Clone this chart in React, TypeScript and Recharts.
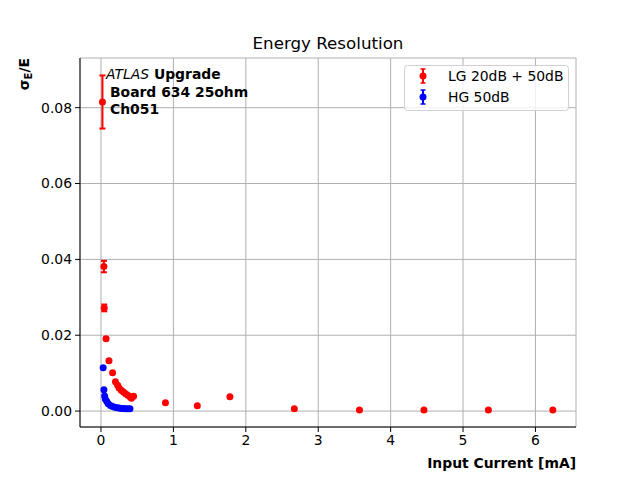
import { CartesianGrid, ErrorBar, Scatter, ScatterChart, XAxis, YAxis } from "recharts"

// LG 20dB + 50dB: input current [mA], sigma_E/E, error (null = too small to see)
const lgCurrent = [0.02, 0.04, 0.045, 0.07, 0.11, 0.16, 0.2, 0.23, 0.25, 0.28, 0.31, 0.34, 0.37, 0.4, 0.42, 0.45, 0.89, 1.33, 1.78, 2.67, 3.57, 4.46, 5.35, 6.24]
const lgRes = [0.0815, 0.0381, 0.0272, 0.0191, 0.0133, 0.0101, 0.0077, 0.0068, 0.0061, 0.0055, 0.005, 0.0046, 0.0042, 0.0038, 0.0034, 0.0039, 0.0022, 0.0014, 0.0038, 0.0006, 0.0003, 0.0003, 0.0003, 0.0003]
const lgErr = [0.007, 0.0015, 0.0009, 0.0003, null, null, null, null, null, null, null, null, null, null, null, null, null, null, null, null, null, null, null, null]

// HG 50dB
const hgCurrent = [0.03, 0.04, 0.05, 0.06, 0.08, 0.1, 0.13, 0.16, 0.19, 0.22, 0.25, 0.28, 0.31, 0.34, 0.37, 0.4]
const hgRes = [0.0114, 0.0056, 0.004, 0.0032, 0.0025, 0.0019, 0.0015, 0.0012, 0.001, 0.0009, 0.0008, 0.0007, 0.0007, 0.0006, 0.0006, 0.0006]
const hgErr = [null, null, null, null, null, null, null, null, null, null, null, null, null, null, null, null]

const xTicks = [0, 1, 2, 3, 4, 5, 6]
const yTicks = [0, 0.02, 0.04, 0.06, 0.08]

const lgData = lgCurrent.map((x, i) => ({ x, y: lgRes[i], err: lgErr[i] }))
const hgData = hgCurrent.map((x, i) => ({ x, y: hgRes[i], err: hgErr[i] }))

const font = "DejaVu Sans"

const dot = (color: string) => (props: any) => (
  <circle cx={props.cx} cy={props.cy} r={3.5} fill={color} />
)

export default function App() {
  return (
    <div style={{ position: "absolute", left: 0, top: 0, width: 640, height: 480, background: "#fff", fontFamily: font }}>
      <ScatterChart width={640} height={480} margin={{ top: 58, right: 64, bottom: 23, left: 0 }}>
        <CartesianGrid stroke="#b0b0b0" strokeWidth={1} />
        <XAxis
          type="number"
          dataKey="x"
          domain={[-0.29, 6.56]}
          ticks={xTicks}
          allowDataOverflow
          height={30}
          stroke="#000"
          tick={{ fill: "#000", fontSize: 13.9, fontFamily: font }}
          tickSize={5}
          tickMargin={3}
        />
        <XAxis xAxisId="top" orientation="top" type="number" domain={[-0.29, 6.56]} tick={false} tickLine={false} height={0} stroke="#000" />
        <YAxis
          type="number"
          dataKey="y"
          domain={[-0.0042, 0.0931]}
          ticks={yTicks}
          allowDataOverflow
          width={80}
          stroke="#000"
          tick={{ fill: "#000", fontSize: 13.9, fontFamily: font }}
          tickFormatter={(v) => v.toFixed(2)}
          tickSize={5}
          tickMargin={3}
        />
        <YAxis yAxisId="right" orientation="right" type="number" domain={[-0.0042, 0.0931]} tick={false} tickLine={false} width={0} stroke="#000" />
        <Scatter data={lgData} fill="#ff0000" shape={dot("#ff0000")} isAnimationActive={false}>
          <ErrorBar dataKey="err" direction="y" width={3} stroke="#ff0000" strokeWidth={2} />
        </Scatter>
        <Scatter data={hgData} fill="#0000ff" shape={dot("#0000ff")} isAnimationActive={false}>
          <ErrorBar dataKey="err" direction="y" width={3} stroke="#0000ff" strokeWidth={2} />
        </Scatter>
      </ScatterChart>
      <svg width={640} height={480} style={{ position: "absolute", left: 0, top: 0, pointerEvents: "none" }} fontFamily={font}>
        <text x={328} y={49} textAnchor="middle" fontSize={16.7} fill="#000">Energy Resolution</text>
        <text x={576} y={468} textAnchor="end" fontSize={13.9} fontWeight="bold" fill="#000">Input Current [mA]</text>
        <text transform="translate(29,58) rotate(-90)" textAnchor="end" fontSize={13.9} fontWeight="bold" fill="#000">
          σ<tspan fontSize={10} dy={3}>E</tspan><tspan dy={-3}>/E</tspan>
        </text>
        <text x={106} y={79} fontSize={13.9} fill="#000">
          <tspan fontStyle="italic">ATLAS</tspan><tspan fontWeight="bold"> Upgrade</tspan>
        </text>
        <text x={110} y={97} fontSize={13.9} fontWeight="bold" fill="#000">Board 634 25ohm</text>
        <text x={110} y={114} fontSize={13.9} fontWeight="bold" fill="#000">Ch051</text>
        <rect x={404.5} y={65.5} width={164} height={45} rx={3} fill="#fff" fillOpacity={0.8} stroke="#d0d0d0" />
        <line x1={423} x2={423} y1={69} y2={83} stroke="#ff0000" strokeWidth={2} />
        <line x1={420.5} x2={425.5} y1={69} y2={69} stroke="#ff0000" strokeWidth={1.5} />
        <line x1={420.5} x2={425.5} y1={83} y2={83} stroke="#ff0000" strokeWidth={1.5} />
        <circle cx={423} cy={76} r={3.5} fill="#ff0000" />
        <text x={448} y={81} fontSize={13.9} fill="#000">LG 20dB + 50dB</text>
        <line x1={423} x2={423} y1={90} y2={104} stroke="#0000ff" strokeWidth={2} />
        <line x1={420.5} x2={425.5} y1={90} y2={90} stroke="#0000ff" strokeWidth={1.5} />
        <line x1={420.5} x2={425.5} y1={104} y2={104} stroke="#0000ff" strokeWidth={1.5} />
        <circle cx={423} cy={97} r={3.5} fill="#0000ff" />
        <text x={448} y={102} fontSize={13.9} fill="#000">HG 50dB</text>
      </svg>
    </div>
  )
}
